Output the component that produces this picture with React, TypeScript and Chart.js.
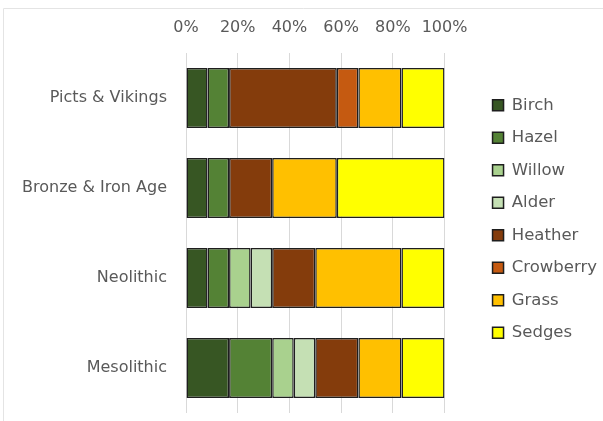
import React, { useEffect, useRef } from "react";
import { Chart, registerables } from "chart.js";

Chart.register(...registerables);

const periods = ["Picts & Vikings", "Bronze & Iron Age", "Neolithic", "Mesolithic"];
const birch = [8.33, 8.33, 8.33, 16.67];
const hazel = [8.33, 8.33, 8.33, 16.67];
const willow = [0, 0, 8.33, 8.33];
const alder = [0, 0, 8.33, 8.33];
const heather = [41.67, 16.67, 16.67, 16.67];
const crowberry = [8.33, 0, 0, 0];
const grass = [16.67, 25, 33.33, 16.67];
const sedges = [16.67, 41.67, 16.67, 16.67];
const xTicks = [0, 20, 40, 60, 80, 100];

const FONT = "'DejaVu Sans', sans-serif";
const TEXT = "#595959";

const frame = {
  id: "frame",
  beforeDraw(chart: any) {
    const ctx = chart.ctx;
    ctx.save();
    ctx.strokeStyle = "#e4e4e4";
    ctx.lineWidth = 1;
    ctx.beginPath();
    ctx.moveTo(3.5, 421);
    ctx.lineTo(3.5, 8.5);
    ctx.lineTo(603, 8.5);
    ctx.stroke();
    ctx.restore();
  },
};

// shift the legend block right of the plot and centre it like the reference
const legendShift = {
  id: "legendShift",
  afterLayout(chart: any) {
    const lg = chart.legend;
    if (!lg) return;
    const dx = 32;
    const dy = 219 - (lg.top + lg.bottom) / 2;
    lg.left += dx;
    lg.right += dx;
    lg.top += dy;
    lg.bottom += dy;
  },
};

export default function App() {
  const ref = useRef<HTMLCanvasElement>(null);
  useEffect(() => {
    const mk = (label: string, data: number[], color: string) => ({
      label,
      data,
      backgroundColor: color,
      borderColor: "#1e1e1e",
      borderWidth: 1.5,
      borderSkipped: false,
      barPercentage: 0.667,
      categoryPercentage: 1,
    });
    const chart = new Chart(ref.current!, {
      type: "bar",
      data: {
        labels: periods,
        datasets: [
          mk("Birch", birch, "#375623"),
          mk("Hazel", hazel, "#548235"),
          mk("Willow", willow, "#A9D18E"),
          mk("Alder", alder, "#C5E0B4"),
          mk("Heather", heather, "#843C0C"),
          mk("Crowberry", crowberry, "#C55A11"),
          mk("Grass", grass, "#FFC000"),
          mk("Sedges", sedges, "#FFFF00"),
        ],
      },
      options: {
        indexAxis: "y",
        animation: false,
        responsive: false,
        layout: { padding: { left: 8, right: 28, top: 0, bottom: 8 } },
        scales: {
          x: {
            position: "top",
            stacked: true,
            min: 0,
            max: 100,
            afterBuildTicks: (s: any) => {
              s.ticks = xTicks.map((v) => ({ value: v }));
            },
            afterFit: (s: any) => {
              s.height = 53;
              s.paddingTop = 0;
              s.paddingBottom = 0;
            },
            ticks: {
              callback: (v: any) => v + "%",
              color: TEXT,
              font: { family: FONT, size: 16 },
              padding: 16,
              maxRotation: 0,
              minRotation: 0,
              autoSkip: false,
            },
            grid: { color: "#d9d9d9", drawTicks: false },
            border: { display: false },
          },
          y: {
            stacked: true,
            ticks: {
              color: TEXT,
              font: { family: FONT, size: 16 },
              padding: 11,
            },
            grid: { display: false },
            border: { display: false },
            afterFit: (s: any) => {
              s.width = 178;
              s.paddingTop = 0;
              s.paddingBottom = 0;
            },
          },
        },
        plugins: {
          legend: {
            position: "right",
            labels: {
              color: TEXT,
              font: { family: FONT, size: 16.5 },
              boxWidth: 11,
              boxHeight: 11,
              padding: 16,
            },
          },
          tooltip: { enabled: false },
        },
      },
      plugins: [frame, legendShift],
    });
    return () => chart.destroy();
  }, []);
  return (
    <div style={{ position: "fixed", left: 0, top: 0, width: 603, height: 421, background: "#fff" }}>
      <canvas ref={ref} width={603} height={421} />
    </div>
  );
}
